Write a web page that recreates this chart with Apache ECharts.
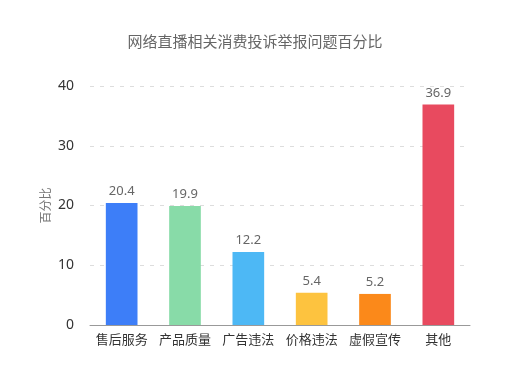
<!DOCTYPE html>
<html><head><meta charset="utf-8">
<script src="https://cdn.jsdelivr.net/npm/echarts@6/dist/echarts.min.js"></script>
<style>html,body{margin:0;padding:0;background:#fff}#c{width:510px;height:383px}</style>
</head><body><div id="c"></div>
<script>
const categories = ['售后服务','产品质量','广告违法','价格违法','虚假宣传','其他'];
const values = [20.4, 19.9, 12.2, 5.4, 5.2, 36.9];
const colors = ['#3d7ef8','#88dba8','#4db8f5','#fdc33f','#fb891a','#e84a5f'];
const yTicks = {min: 0, max: 40, interval: 10};
const font = '"Noto Sans", "Noto Sans CJK SC", sans-serif';
const chart = echarts.init(document.getElementById('c'));
chart.setOption({
  animation: false,
  title: {text: '网络直播相关消费投诉举报问题百分比', left: 'center', top: 30,
    textStyle: {fontSize: 15, fontWeight: 'normal', color: '#666', fontFamily: font}},
  grid: {left: 90, right: 40, top: 86, bottom: 58},
  xAxis: {type: 'category', data: categories,
    axisLine: {lineStyle: {color: '#999'}}, axisTick: {show: false},
    axisLabel: {color: '#333', fontSize: 13, margin: 9, interval: 0, fontFamily: font}},
  yAxis: {type: 'value', min: yTicks.min, max: yTicks.max, interval: yTicks.interval,
    name: '百分比', nameLocation: 'middle', nameGap: 37, nameMoveOverlap: false,
    nameTextStyle: {color: '#777', fontSize: 12, fontFamily: font},
    axisLine: {show: false}, axisTick: {show: false},
    axisLabel: {color: '#333', fontSize: 14, margin: 16, fontFamily: font},
    splitLine: {lineStyle: {type: [4, 6], color: '#ddd'}}},
  series: [{type: 'bar', barWidth: '50%',
    data: values.map((v, i) => ({value: v, itemStyle: {color: colors[i]}})),
    label: {show: true, position: 'top', color: '#666', fontSize: 13, fontFamily: font}}]
});
</script></body></html>
